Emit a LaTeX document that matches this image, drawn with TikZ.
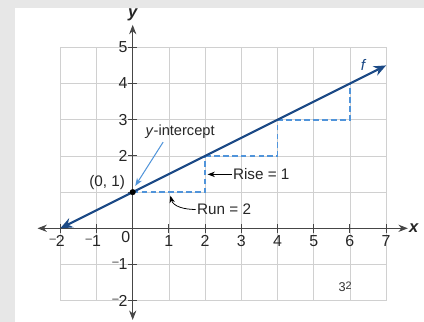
\documentclass[tikz,border=0pt]{standalone}
\usepackage{fontspec}
\setmainfont{Liberation Sans}
\usetikzlibrary{arrows.meta}
\definecolor{lineblue}{RGB}{28,74,134}
\definecolor{dashblue}{RGB}{80,148,218}
\definecolor{panelgray}{RGB}{231,231,231}
\definecolor{gridgray}{RGB}{208,208,208}
\definecolor{axisgray}{RGB}{70,70,70}
\newcommand{\neglab}[1]{\llap{\raisebox{0.5ex}{\fontsize{9}{9}\selectfont –}}#1}

\begin{document}
\begin{tikzpicture}[
  ticklabel/.style={font=\fontsize{12.5}{14}\selectfont, text=black!85, inner sep=1pt},
  note/.style={font=\fontsize{12}{14}\selectfont, text=black!85, inner sep=1pt},
  stepline/.style={dashblue, line width=1.4pt, dash pattern=on 4.5pt off 2.5pt},
]
  % panel and margins
  \fill[panelgray] (-3.666,-2.588) rectangle (8.047,6.307);
  \fill[white] (-3.25,-2.588) rectangle (8.047,6.086);
  \useasboundingbox (-3.666,-2.588) rectangle (8.047,6.307);

  % grid
  \draw[gridgray, line width=0.5pt] (-2,-2) grid (7,5);

  % axes
  \draw[axisgray, line width=0.7pt, {Stealth[length=2.6mm, width=2mm]}-{Stealth[length=2.6mm, width=2mm]}] (-2.63,0) -- (7.6,0);
  \draw[axisgray, line width=0.7pt, {Stealth[length=2.6mm, width=2mm]}-{Stealth[length=2.6mm, width=2mm]}] (0,-2.53) -- (0,5.62);
  \node[font=\fontsize{13}{13}\selectfont\bfseries\itshape, text=black!85] (xlab) at (7.76,0) {x};
  \node[font=\fontsize{13}{13}\selectfont\bfseries\itshape, text=black!85] (ylab) at (0,5.9) {y};

  % ticks
  \foreach \x in {-2,-1,1,2,3,4,5,6,7}
    \draw[axisgray, line width=0.7pt] (\x,-0.13) -- (\x,0.13);
  \foreach \y in {-2,-1,1,2,3,4,5}
    \draw[axisgray, line width=0.7pt] (-0.13,\y) -- (0.13,\y);
  \foreach \x in {1,...,7}
    \node[ticklabel] (xl\x) at (\x,-0.35) {\x};
  \node[ticklabel] (xlm1) at (-1,-0.35) {\neglab{1}};
  \node[ticklabel] (xlm2) at (-2,-0.35) {\neglab{2}};
  \node[ticklabel] (xl0) at (-0.19,-0.24) {0};
  \foreach \y in {2,...,5}
    \node[ticklabel, anchor=east] (yl\y) at (-0.1,\y) {\y};
  \node[ticklabel, anchor=east] (ylm1) at (-0.1,-1) {\neglab{1}};
  \node[ticklabel, anchor=east] (ylm2) at (-0.1,-2) {\neglab{2}};

  % rise and run steps
  \draw[stepline] (0,1) -- (2,1) -- (2,2);
  \draw[stepline] (2,2) -- (4,2) -- (4,3);
  \draw[stepline] (4,3) -- (6,3) -- (6,4);

  % the line f
  \draw[lineblue, line width=1.7pt, {Stealth[length=3.4mm, width=2.8mm]}-{Stealth[length=3.4mm, width=2.8mm]}] (-2,0) -- (7,4.5);
  \node[lineblue, font=\fontsize{12}{14}\selectfont\itshape] (flab) at (6.36,4.5) {f};

  % intercept
  \coordinate (P) at (0,1);
  \fill (P) circle (2.4pt);
  \node[note, anchor=east] (pt) at (-0.17,1.27) {(0, 1)};
  \node[note, font=\fontsize{11.5}{14}\selectfont] (yint) at (1.31,2.66) {\textit{y}-intercept};
  \coordinate (yintFoot) at (0.84,2.38);
  \draw[dashblue, line width=0.8pt, -{Stealth[length=2.2mm, width=1.6mm]}] (yintFoot) -- (0.07,1.17);

  % labels for rise and run
  \node[note, anchor=west] (rise) at (2.73,1.49) {Rise = 1};
  \coordinate (riseTip) at (2.07,1.49);
  \draw[black, line width=0.6pt, -{Stealth[length=2mm, width=1.5mm]}] (rise.west) -- (riseTip);
  \node[note, anchor=west] (run) at (1.74,0.52) {Run = 2};
  \coordinate (runTip) at (1.04,0.9);
  \draw[black, line width=0.6pt, -{Stealth[length=2mm, width=1.5mm]}] (run.west) to[out=180, in=-75] (runTip);

  \node[font=\fontsize{10}{10}\selectfont, text=black!80] (pagenum) at (5.87,-1.61) {3\raisebox{0.35ex}{\fontsize{8.5}{8.5}\selectfont 2}};
\end{tikzpicture}
\end{document}
